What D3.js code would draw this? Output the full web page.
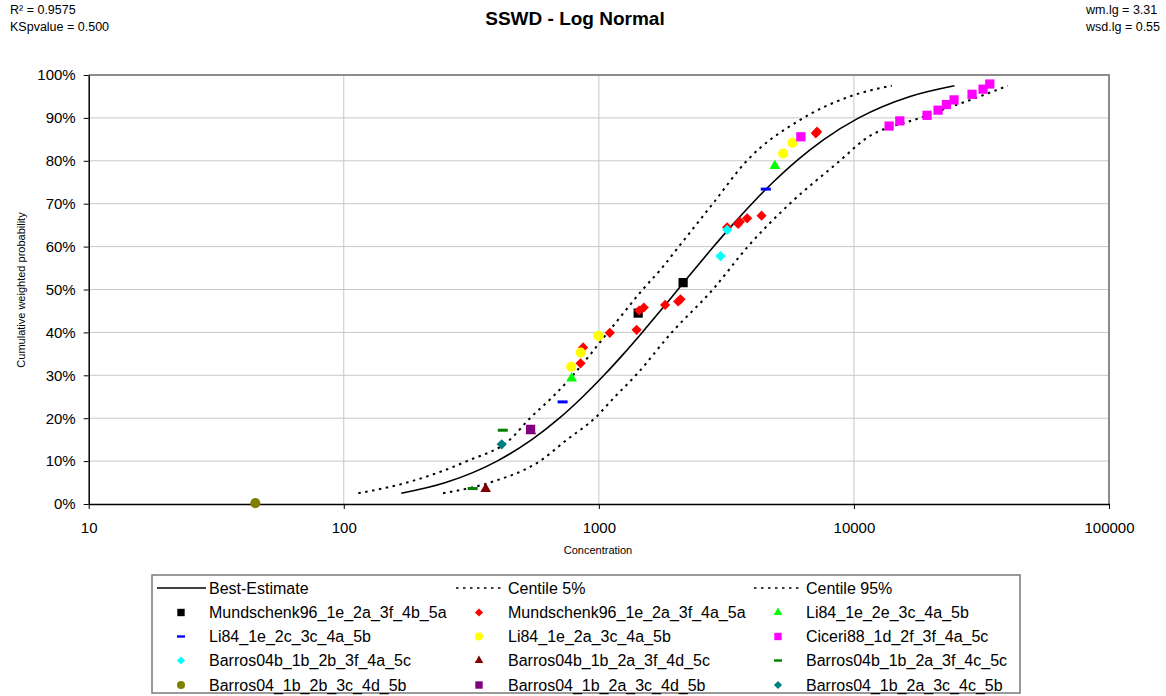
<!DOCTYPE html>
<html>
<head>
<meta charset="utf-8">
<script src="https://cdn.jsdelivr.net/npm/d3@7/dist/d3.min.js"></script>
<style>
  html, body { margin: 0; padding: 0; background: #fff; }
  svg { display: block; font-family: "Liberation Sans", Arial, sans-serif; }
</style>
</head>
<body>
<svg id="chart" width="1166" height="696"></svg>
<script>
// ---- Fitted distribution curves (concentration vs cumulative probability) ----
const bestProb = [0.025, 0.05, 0.10, 0.15, 0.20, 0.25, 0.30, 0.35, 0.40, 0.45, 0.50,
                  0.55, 0.60, 0.65, 0.70, 0.75, 0.80, 0.85, 0.90, 0.95, 0.975];
const bestConc = [168, 251, 399, 546, 700, 865, 1047, 1250, 1479, 1740, 2042,
                  2396, 2818, 3334, 3981, 4819, 5957, 7638, 10447, 16596, 24774];

const c05Prob = [0.025, 0.05, 0.10, 0.15, 0.20, 0.25, 0.30, 0.40, 0.50, 0.55, 0.60,
                 0.70, 0.80, 0.895, 0.95, 0.975];
const c05Conc = [114, 177, 304, 448, 537, 660, 791, 1085, 1487, 1766, 2059,
                 2798, 3802, 6138, 9632, 14070];

const c95Prob = [0.025, 0.05, 0.10, 0.15, 0.20, 0.25, 0.30, 0.40, 0.50, 0.60,
                 0.70, 0.80, 0.85, 0.90, 0.95, 0.975];
const c95Conc = [245, 374, 587, 750, 964, 1156, 1396, 1932, 2798, 3837,
                 5606, 8806, 11031, 18120, 31130, 40090];

// ---- Species data points: [concentration, cumulative weighted probability %] ----
const mund96_4b = [[1426, 44.5], [2140, 51.6]];
const mund96_4a = [[868, 36.5], [848, 32.8], [1104, 39.9], [1406, 40.6], [1439, 45.1],
                   [1501, 45.8], [1819, 46.4], [2046, 47.2], [2090, 47.7], [3184, 64.5],
                   [3515, 65.3], [3570, 65.8], [3814, 66.6], [4344, 67.2], [7088, 86.4],
                   [7171, 86.8]];
const li84_2e = [[782, 29.3], [4896, 78.8]];
const li84_2c = [[721, 23.8], [4513, 73.4]];
const li84_2a = [[779, 32.0], [848, 35.3], [997, 39.2], [5277, 81.7], [5743, 84.2]];
const ciceri88 = [[6193, 85.6], [13740, 88.1], [15130, 89.3], [19350, 90.6], [21370, 91.8],
                  [23050, 93.1], [24690, 94.2], [29050, 95.5], [32080, 96.7], [34090, 97.9]];
const barros04b_2b = [[2999, 57.8], [3184, 63.9]];
const barros04b_4d = [[360, 3.5], [541, 17.0]];
const barros04b_4c = [[320, 3.6], [420, 17.2]];
const barros04_2b = [[45, 0.2]];
const barros04_4d = [[540, 17.4]];
const barros04_4c = [[416, 13.9]];

const seriesNames = [
  "Mundschenk96_1e_2a_3f_4b_5a", "Mundschenk96_1e_2a_3f_4a_5a", "Li84_1e_2e_3c_4a_5b",
  "Li84_1e_2c_3c_4a_5b", "Li84_1e_2a_3c_4a_5b", "Ciceri88_1d_2f_3f_4a_5c",
  "Barros04b_1b_2b_3f_4a_5c", "Barros04b_1b_2a_3f_4d_5c", "Barros04b_1b_2a_3f_4c_5c",
  "Barros04_1b_2b_3c_4d_5b", "Barros04_1b_2a_3c_4d_5b", "Barros04_1b_2a_3c_4c_5b"
];
const seriesData = [mund96_4b, mund96_4a, li84_2e, li84_2c, li84_2a, ciceri88,
                    barros04b_2b, barros04b_4d, barros04b_4c, barros04_2b, barros04_4d, barros04_4c];

const xTicks = [10, 100, 1000, 10000, 100000];
const yTicks = [0, 0.1, 0.2, 0.3, 0.4, 0.5, 0.6, 0.7, 0.8, 0.9, 1.0];

// ---- Marker styles ----
const markerStyles = [
  { shape: "square",   color: "#000000" },
  { shape: "diamond",  color: "#ff0000" },
  { shape: "triangle", color: "#00ff00" },
  { shape: "dash",     color: "#0000ff" },
  { shape: "circle",   color: "#ffff00" },
  { shape: "square",   color: "#ff00ff" },
  { shape: "diamond",  color: "#00ffff" },
  { shape: "triangle", color: "#800000" },
  { shape: "dash",     color: "#008000" },
  { shape: "circle",   color: "#808000" },
  { shape: "square",   color: "#800080" },
  { shape: "diamond",  color: "#008080" }
];

const svg = d3.select("#chart");
const plot = { left: 88.7, right: 1109, top: 75, bottom: 504 };

const x = d3.scaleLog().domain([10, 100000]).range([plot.left, plot.right]);
const y = d3.scaleLinear().domain([0, 1]).range([plot.bottom, plot.top]);

// Gridlines
const grid = svg.append("g");
grid.selectAll("line.h").data(yTicks.slice(1, -1)).join("line")
  .attr("x1", plot.left).attr("x2", plot.right)
  .attr("y1", d => y(d)).attr("y2", d => y(d))
  .attr("stroke", "#c8c8c8").attr("stroke-width", 1);
grid.selectAll("line.v").data(xTicks.slice(1, -1)).join("line")
  .attr("x1", d => x(d)).attr("x2", d => x(d))
  .attr("y1", plot.top).attr("y2", plot.bottom)
  .attr("stroke", "#c8c8c8").attr("stroke-width", 1);

// Plot frame (top and right)
svg.append("path")
  .attr("d", `M${plot.left},${plot.top}H${plot.right}V${plot.bottom}`)
  .attr("fill", "none").attr("stroke", "#8c8c8c").attr("stroke-width", 2);

// Axes
const yAxis = svg.append("g").attr("transform", `translate(${plot.left},0)`)
  .call(d3.axisLeft(y).tickValues(yTicks).tickFormat(d3.format(".0%"))
        .tickSize(5).tickSizeOuter(0).tickPadding(8));
const xAxis = svg.append("g").attr("transform", `translate(0,${plot.bottom})`)
  .call(d3.axisBottom(x).tickValues(xTicks).tickFormat(d3.format("d"))
        .tickSize(5).tickSizeOuter(0).tickPadding(13));
[yAxis, xAxis].forEach(a => {
  a.select(".domain").attr("stroke", "#000").attr("stroke-width", 1.5);
  a.selectAll(".tick line").attr("stroke", "#000").attr("stroke-width", 1);
  a.selectAll(".tick text").attr("font-size", 15).attr("fill", "#000")
    .attr("font-family", "Liberation Sans, Arial, sans-serif");
});

// Axis titles
svg.append("text").attr("x", 598).attr("y", 554).attr("text-anchor", "middle")
  .attr("font-size", 11).text("Concentration");
svg.append("text").attr("transform", "translate(25,290) rotate(-90)")
  .attr("text-anchor", "middle").attr("font-size", 11)
  .text("Cumulative weighted probability");

// Title and statistics
svg.append("text").attr("x", 575).attr("y", 25).attr("text-anchor", "middle")
  .attr("font-size", 19).attr("font-weight", "bold").text("SSWD - Log Normal");
svg.append("text").attr("x", 10).attr("y", 14).attr("font-size", 12.5).text("R² = 0.9575");
svg.append("text").attr("x", 10).attr("y", 31).attr("font-size", 12.5).text("KSpvalue = 0.500");
svg.append("text").attr("x", 1086).attr("y", 14).attr("font-size", 12.5).text("wm.lg = 3.31");
svg.append("text").attr("x", 1086).attr("y", 31).attr("font-size", 12.5).text("wsd.lg = 0.55");

// Curves
const line = d3.line().x(d => x(d[0])).y(d => y(d[1])).curve(d3.curveMonotoneX);
const curves = [
  { conc: bestConc, prob: bestProb, dash: null },
  { conc: c05Conc, prob: c05Prob, dash: "2.5,4.5" },
  { conc: c95Conc, prob: c95Prob, dash: "2.5,4.5" }
];
curves.forEach(c => {
  svg.append("path")
    .datum(c.conc.map((v, i) => [v, c.prob[i]]))
    .attr("d", line)
    .attr("fill", "none").attr("stroke", "#000")
    .attr("stroke-width", c.dash ? 2 : 1.6)
    .attr("stroke-dasharray", c.dash);
});

// Marker drawing
function drawMarker(g, style, cx, cy, scale) {
  const s = scale || 1;
  if (style.shape === "dash") {
    g.append("rect").attr("x", cx - 5 * s).attr("y", cy - 1.5 * s)
      .attr("width", 10 * s).attr("height", 3 * s).attr("fill", style.color);
    return;
  }
  let sym, size, rot = 0;
  if (style.shape === "square") { sym = d3.symbolSquare; size = 85; }
  else if (style.shape === "diamond") { sym = d3.symbolSquare; size = 52; rot = 45; }
  else if (style.shape === "triangle") { sym = d3.symbolTriangle; size = 50; }
  else { sym = d3.symbolCircle; size = 80; }
  g.append("path")
    .attr("d", d3.symbol().type(sym).size(size * s * s)())
    .attr("transform", `translate(${cx},${cy}) rotate(${rot})`)
    .attr("fill", style.color);
}

const points = svg.append("g");
seriesData.forEach((data, i) => {
  data.forEach(d => drawMarker(points, markerStyles[i], x(d[0]), y(d[1] / 100), 1));
});

// Legend
const legend = svg.append("g");
legend.append("rect").attr("x", 152).attr("y", 575).attr("width", 868).attr("height", 118)
  .attr("fill", "#fff").attr("stroke", "#7a7a7a").attr("stroke-width", 1.5);

const colMarkerX = [181, 479, 778];
const colTextX = [209, 508, 806];
const rowY = [588, 612.5, 636.5, 660.5, 685];

const lineEntries = [
  { name: "Best-Estimate", dash: null },
  { name: "Centile 5%", dash: "2.5,4.5" },
  { name: "Centile 95%", dash: "2.5,4.5" }
];
lineEntries.forEach((e, c) => {
  legend.append("line")
    .attr("x1", colTextX[c] - 52).attr("x2", colTextX[c] - 3)
    .attr("y1", rowY[0]).attr("y2", rowY[0])
    .attr("stroke", "#000").attr("stroke-width", e.dash ? 1.5 : 1.6)
    .attr("stroke-dasharray", e.dash);
  legend.append("text").attr("x", colTextX[c]).attr("y", rowY[0])
    .attr("dy", "0.35em").attr("font-size", 16).text(e.name);
});

seriesNames.forEach((name, i) => {
  const r = 1 + Math.floor(i / 3), c = i % 3;
  drawMarker(legend, markerStyles[i], colMarkerX[c], rowY[r], 0.8);
  legend.append("text").attr("x", colTextX[c]).attr("y", rowY[r])
    .attr("dy", "0.35em").attr("font-size", 16).text(name);
});
</script>
</body>
</html>
